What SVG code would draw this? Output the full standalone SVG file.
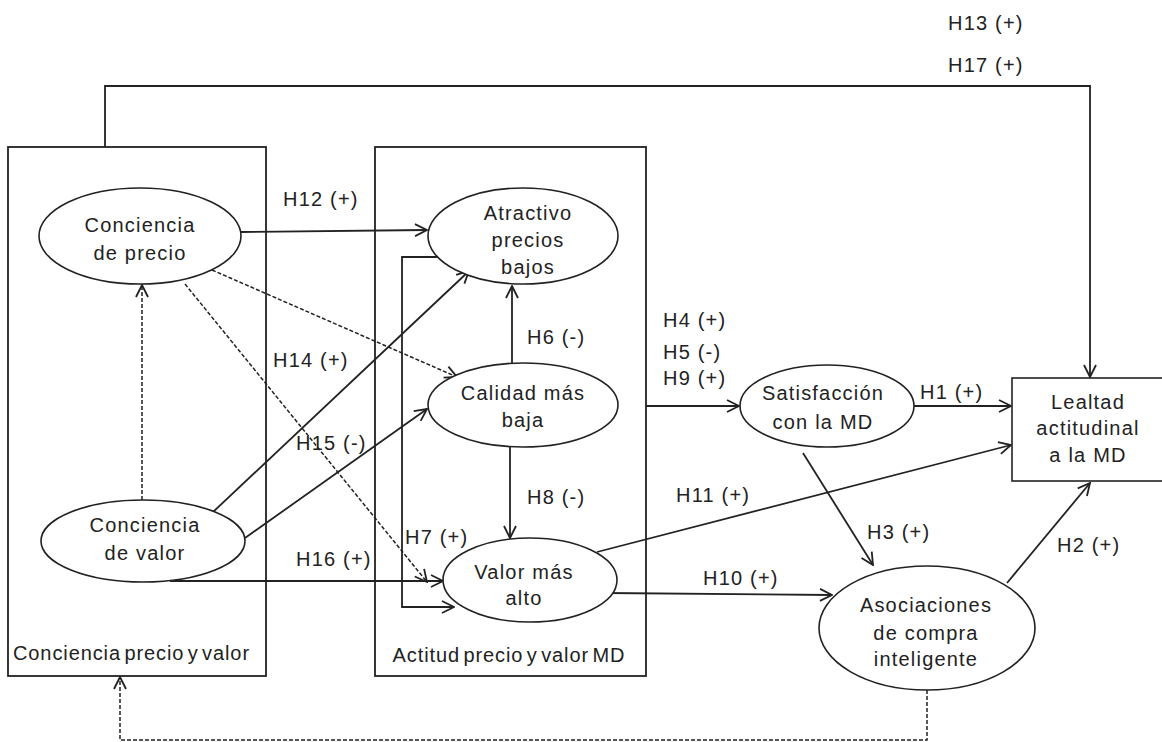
<svg xmlns="http://www.w3.org/2000/svg" width="1162" height="742" viewBox="0 0 1162 742">
<style>
.bg{fill:#fff}
.box{fill:none;stroke:#222;stroke-width:1.8}
.node{fill:#fff;stroke:#222;stroke-width:1.6}
.t{font-family:"Liberation Sans",Arial,sans-serif;font-size:20px;fill:#222;letter-spacing:1.2px}
.c{text-anchor:middle}
.tight{letter-spacing:0.9px;word-spacing:-3px}
.ln{fill:none;stroke:#222;stroke-width:1.8}
.ds{fill:none;stroke:#222;stroke-width:1.5;stroke-dasharray:4 2}
</style>
<defs>
<marker id="ar" viewBox="0 0 14 14" refX="13" refY="7" markerWidth="14" markerHeight="14" markerUnits="userSpaceOnUse" orient="auto">
<path d="M1,1 L13,7 L1,13" fill="none" stroke="#222" stroke-width="1.8"/>
</marker>
</defs>
<rect class="bg" x="0" y="0" width="1162" height="742"/>

<g id="box-conciencia">
<rect class="box" x="8" y="147" width="258" height="529"/>
<text class="t tight" x="13" y="660">Conciencia precio y valor</text>
</g>
<g id="box-actitud">
<rect class="box" x="375" y="147" width="271" height="529"/>
<text class="t c tight" x="509" y="662">Actitud precio y valor MD</text>
</g>

<g id="connectors">
<path class="ln" d="M105,147 V86 H1090 V377" marker-end="url(#ar)"/>
<path class="ln" d="M241,232 L427,230" marker-end="url(#ar)"/>
<path class="ln" d="M443,257 H402 V607 H454" marker-end="url(#ar)"/>
<path class="ln" d="M512,364 V286" marker-end="url(#ar)"/>
<path class="ln" d="M510,447 V538" marker-end="url(#ar)"/>
<path class="ds" d="M142,500 V285" marker-end="url(#ar)"/>
<path class="ds" d="M212,270 L457,377" marker-end="url(#ar)"/>
<path class="ds" d="M185,284 L427,582" marker-end="url(#ar)"/>
<path class="ln" d="M213,512 L469,271" marker-end="url(#ar)"/>
<path class="ln" d="M245,538 L427,409" marker-end="url(#ar)"/>
<path class="ln" d="M170,581 H443" marker-end="url(#ar)"/>
<path class="ln" d="M646,406 H739" marker-end="url(#ar)"/>
<path class="ln" d="M914,406 H1011" marker-end="url(#ar)"/>
<path class="ln" d="M597,552 L1011,445" marker-end="url(#ar)"/>
<path class="ln" d="M803,453 L873,565" marker-end="url(#ar)"/>
<path class="ln" d="M605,593 L832,595" marker-end="url(#ar)"/>
<path class="ln" d="M1007,583 L1090,483" marker-end="url(#ar)"/>
<path class="ds" d="M927,690 V740 H120 V677" marker-end="url(#ar)"/>
<text class="t" x="948" y="30">H13 (+)</text>
<text class="t" x="948" y="72">H17 (+)</text>
<text class="t" x="283" y="206">H12 (+)</text>
<text class="t" x="273" y="367">H14 (+)</text>
<text class="t" x="296" y="450">H15 (-)</text>
<text class="t" x="296" y="566">H16 (+)</text>
<text class="t" x="405" y="544">H7 (+)</text>
<text class="t" x="527" y="344">H6 (-)</text>
<text class="t" x="527" y="504">H8 (-)</text>
<text class="t" x="663" y="327">H4 (+)</text>
<text class="t" x="663" y="359">H5 (-)</text>
<text class="t" x="663" y="385">H9 (+)</text>
<text class="t" x="920" y="399">H1 (+)</text>
<text class="t" x="676" y="502">H11 (+)</text>
<text class="t" x="867" y="539">H3 (+)</text>
<text class="t" x="703" y="585">H10 (+)</text>
<text class="t" x="1057" y="552">H2 (+)</text>
</g>

<g id="n-conciencia-precio">
<ellipse class="node" cx="140" cy="236" rx="101" ry="48"/>
<text class="t c" x="140" y="232">Conciencia</text>
<text class="t c" x="140" y="260">de precio</text>
</g>
<g id="n-conciencia-valor">
<ellipse class="node" cx="143" cy="541" rx="102" ry="41"/>
<text class="t c" x="145" y="532">Conciencia</text>
<text class="t c" x="145" y="560">de valor</text>
</g>
<g id="n-atractivo">
<ellipse class="node" cx="523" cy="236" rx="95" ry="48"/>
<text class="t c" x="528" y="220">Atractivo</text>
<text class="t c" x="528" y="247">precios</text>
<text class="t c" x="528" y="274">bajos</text>
</g>
<g id="n-calidad">
<ellipse class="node" cx="523" cy="405" rx="95" ry="42"/>
<text class="t c" x="523" y="400">Calidad más</text>
<text class="t c" x="523" y="427">baja</text>
</g>
<g id="n-valor">
<ellipse class="node" cx="530" cy="580" rx="87" ry="42"/>
<text class="t c" x="524" y="579">Valor más</text>
<text class="t c" x="524" y="605">alto</text>
</g>
<g id="n-satisfaccion">
<ellipse class="node" cx="827" cy="406" rx="87" ry="41"/>
<text class="t c" x="823" y="400">Satisfacción</text>
<text class="t c" x="823" y="429">con la MD</text>
</g>
<g id="n-asociaciones">
<ellipse class="node" cx="927" cy="628" rx="108" ry="62"/>
<text class="t c" x="926" y="612">Asociaciones</text>
<text class="t c" x="926" y="640">de compra</text>
<text class="t c" x="926" y="666">inteligente</text>
</g>
<g id="n-lealtad">
<rect class="node" x="1012" y="378" width="160" height="103"/>
<text class="t c" x="1088" y="409">Lealtad</text>
<text class="t c" x="1088" y="435">actitudinal</text>
<text class="t c" x="1088" y="462">a la MD</text>
</g>
</svg>
